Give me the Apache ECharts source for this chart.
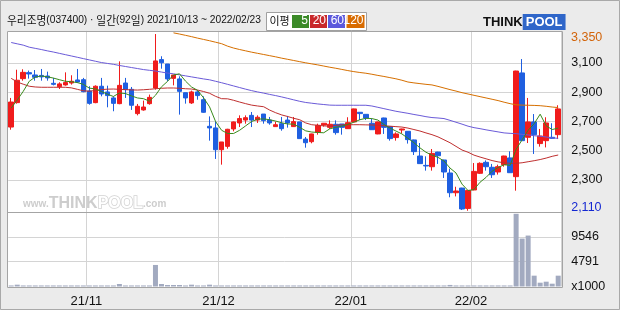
<!DOCTYPE html>
<html><head><meta charset="utf-8">
<script src="https://cdn.jsdelivr.net/npm/echarts/dist/echarts.min.js"></script>
<style>html,body{margin:0;padding:0;background:#ebebeb}#c{width:620px;height:310px}</style>
</head><body><div id="c"></div>
<script>
const dates = ['21/10/13','21/10/14','21/10/15','21/10/18','21/10/19','21/10/20','21/10/21','21/10/22','21/10/25','21/10/26','21/10/27','21/10/28','21/10/29',
'21/11/01','21/11/02','21/11/03','21/11/04','21/11/05','21/11/08','21/11/09','21/11/10','21/11/11','21/11/12','21/11/15','21/11/16','21/11/17','21/11/18','21/11/19','21/11/22','21/11/23','21/11/24','21/11/25','21/11/26','21/11/29','21/11/30',
'21/12/01','21/12/02','21/12/03','21/12/06','21/12/07','21/12/08','21/12/09','21/12/10','21/12/13','21/12/14','21/12/15','21/12/16','21/12/17','21/12/20','21/12/21','21/12/22','21/12/23','21/12/24','21/12/27','21/12/28','21/12/29','21/12/30',
'22/01/03','22/01/04','22/01/05','22/01/06','22/01/07','22/01/10','22/01/11','22/01/12','22/01/13','22/01/14','22/01/17','22/01/18','22/01/19','22/01/20','22/01/21','22/01/24','22/01/25','22/01/26','22/01/27','22/01/28',
'22/02/03','22/02/04','22/02/07','22/02/08','22/02/09','22/02/10','22/02/11','22/02/14','22/02/15','22/02/16','22/02/17','22/02/18','22/02/21','22/02/22','22/02/23'];

const opens = [2662,2829,2993,3034,3018,3015,3011,2961,2938,2950,2963,2984,2986,2909,2829,2941,2902,2861,2822,2963,2920,2754,2779,2822,2929,3123,3093,2995,2991,2897,2827,2902,2849,2667,2656,2507,2530,2649,2690,2710,2742,2710,2751,2710,2665,2685,2710,2665,2697,2580,2562,2626,2676,2660,2681,2683,2651,2697,2763,2749,2688,2615,2724,2665,2590,2642,2633,2574,2464,2400,2391,2491,2437,2348,2213,2245,2106,2232,2346,2421,2387,2355,2405,2451,2323,3032,2592,2697,2549,2569,2592,2610];
const closes = [2833,2982,3036,3025,3002,3005,2998,2954,2957,2966,2975,2970,2904,2824,2941,2888,2877,2824,2947,2918,2811,2804,2799,2865,3114,3102,2991,3018,2906,2861,2902,2877,2763,2656,2507,2560,2647,2697,2720,2726,2710,2729,2706,2690,2678,2651,2690,2699,2583,2555,2615,2674,2688,2681,2624,2660,2692,2786,2754,2724,2644,2697,2660,2583,2615,2649,2576,2494,2412,2396,2482,2466,2355,2213,2225,2102,2229,2359,2414,2391,2336,2391,2464,2350,3045,2569,2697,2610,2601,2690,2585,2786];
const lows = [2644,2822,2979,2993,2979,2979,2979,2947,2922,2945,2952,2963,2900,2815,2825,2872,2797,2770,2818,2861,2779,2742,2774,2815,2918,3061,2975,2947,2747,2822,2820,2849,2760,2569,2444,2405,2514,2633,2662,2685,2662,2690,2685,2678,2663,2637,2658,2663,2583,2521,2551,2610,2665,2649,2610,2610,2649,2695,2710,2710,2642,2613,2615,2569,2569,2619,2549,2471,2410,2364,2364,2410,2314,2182,2188,2095,2090,2230,2341,2364,2314,2337,2391,2348,2227,2567,2553,2478,2528,2523,2583,2580];
const highs = [2861,3054,3057,3048,3052,3059,3041,2998,2968,3036,3016,3059,2998,2941,2947,2998,2945,2872,3111,2998,2936,2820,2843,2884,3298,3146,3093,3018,3009,2897,2911,2913,2872,2735,2701,2560,2650,2700,2742,2742,2765,2742,2751,2731,2699,2731,2738,2731,2697,2594,2617,2685,2690,2708,2708,2683,2729,2788,2765,2749,2720,2699,2726,2667,2626,2651,2635,2576,2553,2462,2512,2493,2439,2378,2254,2247,2231,2416,2421,2434,2410,2405,2466,2496,3047,3127,2861,2751,2649,2729,2688,2811];

const ma5 = [2792,2847,2906,2975,3004,3011,3006,2997,2986,2975,2972,2966,2954,2928,2923,2905,2887,2871,2895,2891,2875,2861,2856,2839,2879,2937,2974,3018,3026,2976,2936,2913,2862,2800,2700,2640,2618,2618,2640,2670,2700,2716,2718,2712,2703,2691,2683,2682,2660,2636,2628,2625,2623,2650,2660,2668,2680,2695,2712,2722,2720,2710,2680,2655,2635,2615,2585,2555,2520,2490,2470,2455,2430,2382,2348,2272,2228,2235,2285,2318,2360,2385,2405,2400,2510,2575,2640,2685,2750,2670,2645,2655];
const ma20 = [2995,2970,2955,2941,2936,2934,2934,2934,2934,2934,2930,2920,2910,2907,2912,2918,2921,2922,2920,2918,2916,2915,2917,2920,2924,2927,2929,2929,2927,2924,2922,2915,2905,2893,2872,2856,2855,2845,2833,2822,2812,2806,2801,2778,2760,2745,2734,2722,2712,2690,2678,2674,2670,2668,2674,2677,2678,2678,2678,2677,2676,2674,2671,2668,2665,2662,2655,2645,2635,2622,2610,2595,2575,2555,2530,2505,2490,2470,2457,2445,2433,2424,2418,2414,2414,2418,2425,2432,2440,2450,2462,2471];
const ma60 = [3240,3231,3222,3208,3200,3192,3183,3175,3166,3157,3148,3139,3130,3121,3112,3103,3097,3091,3083,3076,3069,3062,3055,3050,3045,3038,3031,3026,3019,3012,3005,2998,2991,2985,2975,2965,2954,2943,2932,2921,2911,2902,2894,2885,2877,2868,2858,2848,2838,2830,2825,2820,2816,2812,2811,2811,2811,2811,2811,2811,2806,2797,2788,2779,2770,2763,2756,2748,2741,2733,2727,2724,2720,2708,2695,2682,2668,2658,2651,2643,2636,2629,2622,2619,2617,2612,2608,2603,2599,2594,2588,2585];
const ma120 = ['-','-','-','-','-','-','-','-','-','-','-','-','-','-','-','-','-','-','-','-','-','-','-','-','-','-','-',
3306,3298,3289,3280,3270,3261,3252,3242,3232,3215,3202,3192,3183,3174,3166,3158,3150,3142,3133,3125,3117,3109,3101,3094,3087,3079,3071,3064,3056,3048,3041,3035,3030,3023,3015,3008,3000,2992,2982,2970,2964,2959,2954,2950,2940,2929,2918,2908,2897,2888,2879,2870,2861,2852,2843,2832,2822,2814,2812,2811,2810,2808,2804,2799,2795];

const volumes = [200,350,200,200,200,200,200,200,200,200,200,200,200,200,200,200,200,200,480,200,200,200,200,200,4150,480,290,290,290,200,350,200,200,350,200,200,200,200,200,200,200,200,200,200,200,200,200,200,200,200,200,200,200,200,200,200,200,200,200,200,200,200,200,200,200,200,200,200,200,200,200,200,200,300,200,200,200,200,200,200,200,200,200,200,14010,9237,9817,2087,734,928,541,2087];

const priceGridValues = [2300, 2500, 2700, 2900, 3100];
const priceLabelValues = [2110, 2300, 2500, 2700, 2900, 3100];
const priceHighLabel = '3,350';
const volTickLabels = ['x1000', '4791', '9546'];
const volTickStep = 4773;

const titleParts = [['우리조명', 'h'], ['(037400) · ', 'l'], ['일간', 'h'], ['(92', 'l'], ['일', 'h'], [') 2021/10/13 ~ 2022/02/23', 'l']];
const maNames = ['5', '20', '60', '120'];
const maColors = ['#3a8a1c', '#bf2f2f', '#6a5ad8', '#d66f00'];
const legendBoxColors = ['#3b8a28', '#c9282a', '#5b58dc', '#d86b00'];

function isMonthStart(i) { return i > 0 && dates[i].slice(0, 5) !== dates[i - 1].slice(0, 5); }
function fmt(v) { return String(v).replace(/\B(?=(\d{3})+(?!\d))/g, ','); }

const candleData = dates.map((d, i) => [opens[i], closes[i], lows[i], highs[i]]);
const FONT = 'Liberation Sans, Arial, sans-serif';
const KFONT = 'Noto Sans CJK KR, sans-serif';
const GRID_LEFT = 8.2, GRID_W = 553;

// title width fitting (layout only)
const titleFonts = { h: '12px ' + KFONT, l: '11.5px ' + FONT };
const mctx = document.createElement('canvas').getContext('2d');
let titleW = 0;
titleParts.forEach(p => { mctx.font = titleFonts[p[1]]; titleW += mctx.measureText(p[0]).width; });
const titleScale = Math.min(1, 254 / titleW);

const chart = echarts.init(document.getElementById('c'), null, { renderer: 'canvas', width: 620, height: 310 });

const graphics = [
  { type: 'rect', z: -20, shape: { x: 0.5, y: 0.5, width: 619, height: 309 }, style: { fill: '#ebebeb', stroke: '#a9a9a9', lineWidth: 1 } },
  { type: 'rect', z: -10, shape: { x: 7, y: 31, width: 556, height: 257 }, style: { fill: '#ffffff' } },
  { type: 'text', z: -5, x: 23, y: 196, style: { rich: {
      a: { fontSize: 10, fontFamily: FONT, fill: '#cdcdcd', fontWeight: 'bold' },
      b: { fontSize: 16, fontFamily: FONT, fill: '#cdcdcd', fontWeight: 'bold' },
      c: { fontSize: 16, fontFamily: FONT, fill: '#ffffff', stroke: '#d2d2d2', lineWidth: 1.5, fontWeight: 'bold' } },
      text: '{a|www.}{b|THINK}{c|POOL}{a|.com}' } },
  { type: 'rect', z: 50, shape: { x: 7.5, y: 31.5, width: 555, height: 256 }, style: { fill: 'none', stroke: '#a4a4a4', lineWidth: 1 } },
  { type: 'line', z: 50, shape: { x1: 7.5, y1: 212.5, x2: 562.5, y2: 212.5 }, style: { stroke: '#a4a4a4', lineWidth: 1 } },
  { type: 'text', x: 7, y: 14, scaleX: titleScale, style: {
      rich: { h: { fontSize: 12, fontFamily: KFONT, fill: '#111' }, l: { fontSize: 11.5, fontFamily: FONT, fill: '#111' } },
      text: titleParts.map(p => '{' + p[1] + '|' + p[0] + '}').join('') } },
  { type: 'rect', shape: { x: 266.5, y: 12.5, width: 100, height: 18 }, style: { fill: '#ffffff', stroke: '#a0a0a0', lineWidth: 1 } },
  { type: 'text', x: 269.5, y: 15, style: { text: '이평', fontSize: 11, fontFamily: KFONT, fill: '#111' } },
  { type: 'text', x: 571, y: 31, z: 60, style: { text: priceHighLabel, fontSize: 12.5, fontFamily: FONT, fill: '#d2640a' } },
  { type: 'text', x: 483, y: 14, style: { rich: {
      a: { fontSize: 13, fontFamily: FONT, fontWeight: 'bold', fill: '#111' },
      b: { fontSize: 13, fontFamily: FONT, fontWeight: 'bold', fill: '#ffffff', backgroundColor: '#2f66c9', padding: [2, 3, 1, 3] } },
      text: '{a|THINK}{b|POOL}' } }
];
const boxX = [292, 310, 328, 346.5];
const boxW = [17, 17, 17, 18];
maNames.forEach((n, i) => {
  graphics.push({ type: 'rect', shape: { x: boxX[i], y: 15, width: boxW[i], height: 13 }, style: { fill: legendBoxColors[i] } });
  graphics.push({ type: 'text', x: boxX[i] + boxW[i] - 1, y: 15, style: { text: n, fontSize: 12, fontFamily: FONT, fill: '#ffffff', align: 'right' } });
});

const option = {
  animation: false,
  backgroundColor: 'transparent',
  graphic: graphics,
  grid: [
    { left: GRID_LEFT, width: GRID_W, top: 30.8, height: 181.4 },
    { left: GRID_LEFT, width: GRID_W, top: 212.2, height: 74.3 }
  ],
  xAxis: [
    { type: 'category', gridIndex: 0, data: dates, boundaryGap: true,
      axisLine: { show: false }, axisTick: { show: false }, axisLabel: { show: false },
      splitLine: { show: true, interval: (i) => isMonthStart(i), lineStyle: { color: '#d4d4d4', width: 1 } } },
    { type: 'category', gridIndex: 1, data: dates, boundaryGap: true,
      axisLine: { show: false }, axisTick: { show: false },
      axisLabel: { show: true, interval: (i) => isMonthStart(i), formatter: (v) => v.slice(0, 5),
        color: '#111', fontSize: 13, fontFamily: FONT, margin: 8, padding: [0, 6, 0, 0] },
      splitLine: { show: true, interval: (i) => isMonthStart(i), lineStyle: { color: '#d4d4d4', width: 1 } } }
  ],
  yAxis: [
    { type: 'value', gridIndex: 0, position: 'right', min: 2080, max: 3320,
      axisLine: { show: false }, axisTick: { show: false, customValues: priceGridValues },
      splitLine: { show: true, lineStyle: { color: '#d4d4d4', width: 1 } },
      axisLabel: { customValues: priceLabelValues, formatter: (v) => fmt(v), margin: 10,
        color: (v) => (Number(v) === priceLabelValues[0] ? '#1428d2' : '#111'), fontSize: 12.5, fontFamily: FONT } },
    { type: 'value', gridIndex: 1, position: 'right', min: 0, max: volTickStep * 3, interval: volTickStep,
      axisLine: { show: false }, axisTick: { show: false },
      splitLine: { show: true, lineStyle: { color: ['rgba(0,0,0,0)', '#d4d4d4', '#d4d4d4', 'rgba(0,0,0,0)'], width: 1 } },
      axisLabel: { formatter: (v, i) => volTickLabels[i] || '', margin: 10, color: '#111', fontSize: 12.5, fontFamily: FONT } }
  ],
  series: [
    { type: 'candlestick', xAxisIndex: 0, yAxisIndex: 0, data: candleData, barWidth: 5,
      itemStyle: { color: '#f01c1c', color0: '#1f5fe0', borderColor: '#f01c1c', borderColor0: '#1f5fe0', borderWidth: 1 } },
    { type: 'line', name: '120', xAxisIndex: 0, yAxisIndex: 0, data: ma120, showSymbol: false, symbol: 'none', lineStyle: { color: maColors[3], width: 1 } },
    { type: 'line', name: '60', xAxisIndex: 0, yAxisIndex: 0, data: ma60, showSymbol: false, symbol: 'none', lineStyle: { color: maColors[2], width: 1 } },
    { type: 'line', name: '20', xAxisIndex: 0, yAxisIndex: 0, data: ma20, showSymbol: false, symbol: 'none', lineStyle: { color: maColors[1], width: 1 } },
    { type: 'line', name: '5', xAxisIndex: 0, yAxisIndex: 0, data: ma5, showSymbol: false, symbol: 'none', lineStyle: { color: maColors[0], width: 1 } },
    { type: 'bar', xAxisIndex: 1, yAxisIndex: 1, data: volumes, barWidth: 5, itemStyle: { color: '#a2aac0' } }
  ]
};
chart.setOption(option);
</script></body></html>
